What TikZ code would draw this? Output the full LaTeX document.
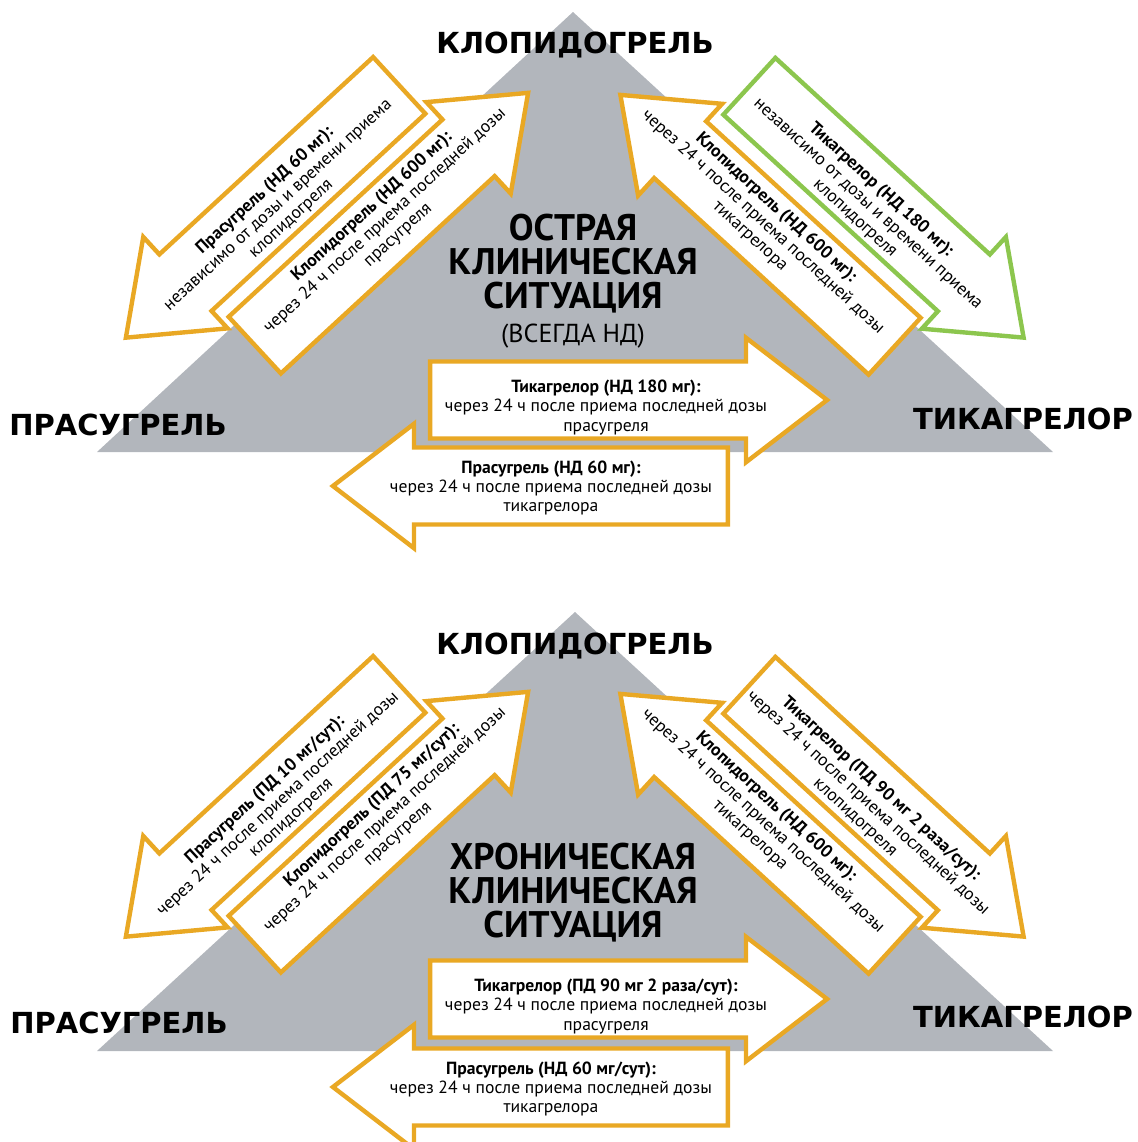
\documentclass[tikz,border=0pt]{standalone}
\usepackage{fontspec}
\setmainfont{PT Sans}
\newfontfamily\labelfont{DejaVu Sans}
\usetikzlibrary{shapes.arrows}

\definecolor{pyrgray}{RGB}{178,182,188}
\definecolor{arrorange}{RGB}{233,168,36}
\definecolor{arrgreen}{RGB}{140,198,78}

\tikzset{
  pyramid/.style={fill=pyrgray},
  corner/.style={font=\labelfont\bfseries\fontsize{14.5}{16}\selectfont, anchor=base, inner sep=0pt},
  situation/.style={font=\bfseries\fontsize{18.5}{17}\selectfont, align=center, inner sep=0pt},
  blockarr/.style={single arrow, draw=arrorange, fill=white, line width=2.2pt,
    single arrow tip angle=75, single arrow head extend=11.85pt,
    inner xsep=0pt, inner ysep=18.15pt, minimum width=0pt},
  backarr/.style={blockarr, shape border rotate=180},
  arrtext/.style={align=center, inner sep=0pt, font=\fontsize{8.8}{9.6}\selectfont},
}

\begin{document}
\begin{tikzpicture}[x=0.5pt, y=-0.5pt]
  \useasboundingbox (0,0) rectangle (1138,1142);

  % acute situation
  \begin{scope}
    \fill[pyramid] (97,452) -- (1053,452) -- (573,12) -- cycle;
    \node[backarr, rotate=42.7, minimum height=186pt] (prasA) at (281,194.5) {};
    \node[arrtext, rotate=42.7] (prasAtxt) at (278,205)
      {\textbf{Прасугрель (НД 60 мг):}\\независимо от дозы и времени приема\\клопидогреля};
    \node[blockarr, rotate=42.7, minimum height=186pt] (clopA) at (373,236) {};
    \node[arrtext, rotate=42.7] (clopAtxt) at (385,221)
      {\textbf{Клопидогрель (НД 600 мг):}\\через 24 ч после приема последней дозы\\прасугреля};
    \node[blockarr, draw=arrgreen, rotate=-42.5, minimum height=186pt] (ticA) at (868,195) {};
    \node[arrtext, rotate=-42.5] (ticAtxt) at (868,204)
      {\textbf{Тикагрелор (НД 180 мг):}\\независимо от дозы и времени приема\\клопидогреля};
    \node[backarr, rotate=-42.5, minimum height=186pt] (clopB) at (776,237.5) {};
    \node[arrtext, rotate=-42.5] (clopBtxt) at (763,222)
      {\textbf{Клопидогрель (НД 600 мг):}\\через 24 ч после приема последней дозы\\тикагрелора};
    \node[blockarr, minimum height=198.5pt] (ticB) at (603.5,400) {};
    \node[arrtext] (ticBtxt) at (606,407.5)
      {\textbf{Тикагрелор (НД 180 мг):}\\через 24 ч после приема последней дозы\\прасугреля};
    \node[backarr, minimum height=197.5pt] (prasB) at (555.5,486) {};
    \node[arrtext] (prasBtxt) at (551,488)
      {\textbf{Прасугрель (НД 60 мг):}\\через 24 ч после приема последней дозы\\тикагрелора};
    \node[corner] (clopL) at (575,53) {КЛОПИДОГРЕЛЬ};
    \node[corner] (prasL) at (118,435) {ПРАСУГРЕЛЬ};
    \node[corner] (ticL) at (1023,429) {ТИКАГРЕЛОР};
    \node[situation] (acute) at (573,281)
      {ОСТРАЯ\\КЛИНИЧЕСКАЯ\\СИТУАЦИЯ\\{\mdseries\fontsize{13}{17}\selectfont(ВСЕГДА НД)}};
  \end{scope}

  % chronic situation
  \begin{scope}[shift={(0,599)}]
    \fill[pyramid] (97,452) -- (1053,452) -- (575,13) -- cycle;
    \node[backarr, rotate=42.7, minimum height=186pt] (prasC) at (281,194.5) {};
    \node[arrtext, rotate=42.7] (prasCtxt) at (278,205)
      {\textbf{Прасугрель (ПД 10 мг/сут):}\\через 24 ч после приема последней дозы\\клопидогреля};
    \node[blockarr, rotate=42.7, minimum height=186pt] (clopC) at (373,236) {};
    \node[arrtext, rotate=42.7] (clopCtxt) at (385,221)
      {\textbf{Клопидогрель (ПД 75 мг/сут):}\\через 24 ч после приема последней дозы\\прасугреля};
    \node[blockarr, rotate=-42.5, minimum height=186pt] (ticC) at (868,195) {};
    \node[arrtext, rotate=-42.5] (ticCtxt) at (868,204)
      {\textbf{Тикагрелор (ПД 90 мг 2 раза/сут):}\\через 24 ч после приема последней дозы\\клопидогреля};
    \node[backarr, rotate=-42.5, minimum height=186pt] (clopD) at (776,237.5) {};
    \node[arrtext, rotate=-42.5] (clopDtxt) at (763,222)
      {\textbf{Клопидогрель (НД 600 мг):}\\через 24 ч после приема последней дозы\\тикагрелора};
    \node[blockarr, minimum height=198.5pt] (ticD) at (603.5,400) {};
    \node[arrtext] (ticDtxt) at (606,407.5)
      {\textbf{Тикагрелор (ПД 90 мг 2 раза/сут):}\\через 24 ч после приема последней дозы\\прасугреля};
    \node[backarr, minimum height=197.5pt] (prasD) at (555.5,488) {};
    \node[arrtext] (prasDtxt) at (551,490)
      {\textbf{Прасугрель (НД 60 мг/сут):}\\через 24 ч после приема последней дозы\\тикагрелора};
    \node[corner] (clopM) at (575,55) {КЛОПИДОГРЕЛЬ};
    \node[corner] (prasM) at (119,434) {ПРАСУГРЕЛЬ};
    \node[corner] (ticM) at (1023,428) {ТИКАГРЕЛОР};
    \node[situation] (chronic) at (573,294)
      {ХРОНИЧЕСКАЯ\\КЛИНИЧЕСКАЯ\\СИТУАЦИЯ};
  \end{scope}
\end{tikzpicture}
\end{document}
